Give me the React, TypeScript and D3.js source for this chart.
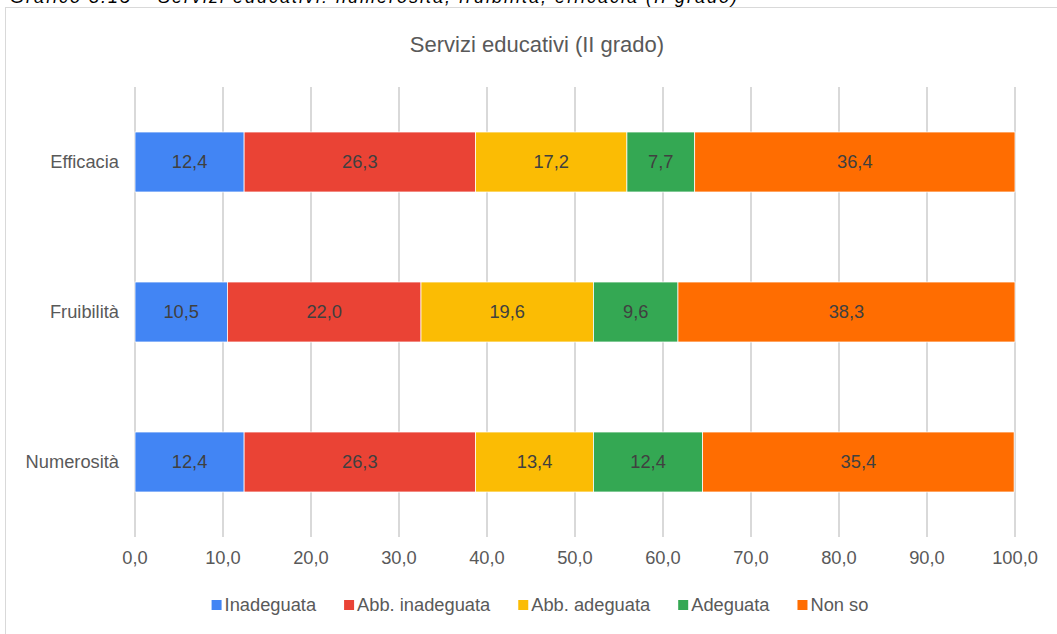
import React, { useRef, useEffect } from 'react';
import * as d3 from 'd3';

const categories = ['Efficacia', 'Fruibilità', 'Numerosità'];
const seriesNames = ['Inadeguata', 'Abb. inadeguata', 'Abb. adeguata', 'Adeguata', 'Non so'];
const inadeguata = [12.4, 10.5, 12.4];
const abbInadeguata = [26.3, 22.0, 26.3];
const abbAdeguata = [17.2, 19.6, 13.4];
const adeguata = [7.7, 9.6, 12.4];
const nonSo = [36.4, 38.3, 35.4];
const xTicks = [0, 10, 20, 30, 40, 50, 60, 70, 80, 90, 100];

const colors = ['#4285F4', '#EA4335', '#FBBC04', '#34A853', '#FF6D01'];

const App: React.FC = () => {
  const svgRef = useRef<SVGSVGElement>(null);

  useEffect(() => {
    const svg = d3.select(svgRef.current);
    svg.selectAll('*').remove();

    const width = 1057;
    const height = 634;
    const font = 'Liberation Sans, Arial, sans-serif';
    const fs = 18.3;
    const fmt = d3.formatLocale({ decimal: ',', thousands: '.', grouping: [3], currency: ['', ''] }).format('.1f');

    svg.attr('width', width).attr('height', height);

    // caption of the page, cut off by the top edge
    svg.append('text')
      .attr('x', 10)
      .attr('y', 3)
      .attr('font-family', font)
      .attr('font-size', 18)
      .attr('font-style', 'italic')
      .attr('fill', '#000')
      .attr('textLength', 727)
      .attr('lengthAdjust', 'spacing')
      .text('Grafico 3.15 – Servizi educativi: numerosità, fruibilità, efficacia (II grado)');

    // chart frame (runs off the right and bottom edges)
    svg.append('rect')
      .attr('x', 5.5)
      .attr('y', 7.5)
      .attr('width', 1100)
      .attr('height', 700)
      .attr('fill', '#fff')
      .attr('stroke', '#d9d9d9');

    svg.append('text')
      .attr('x', 537)
      .attr('y', 52)
      .attr('text-anchor', 'middle')
      .attr('font-family', font)
      .attr('font-size', 22)
      .attr('fill', '#595959')
      .text('Servizi educativi (II grado)');

    const x = d3.scaleLinear().domain([0, 100]).range([135, 1015]);
    const y = d3.scaleBand<string>().domain(categories).range([87, 537]).paddingInner(0.6).paddingOuter(0.3);

    // gridlines
    svg.append('g')
      .selectAll('line')
      .data(xTicks)
      .join('line')
      .attr('x1', (d) => x(d))
      .attr('x2', (d) => x(d))
      .attr('y1', 87)
      .attr('y2', 537)
      .attr('stroke', '#d9d9d9')
      .attr('stroke-width', 2);

    // tick labels
    svg.append('g')
      .selectAll('text')
      .data(xTicks)
      .join('text')
      .attr('x', (d) => x(d))
      .attr('y', 564)
      .attr('text-anchor', 'middle')
      .attr('font-family', font)
      .attr('font-size', fs)
      .attr('fill', '#595959')
      .text((d) => fmt(d));

    // category labels
    svg.append('g')
      .selectAll('text')
      .data(categories)
      .join('text')
      .attr('x', 119)
      .attr('y', (d) => (y(d) as number) + y.bandwidth() / 2)
      .attr('dy', '0.35em')
      .attr('text-anchor', 'end')
      .attr('font-family', font)
      .attr('font-size', fs)
      .attr('fill', '#595959')
      .text((d) => d);

    const table = categories.map((c, i) => ({
      category: c,
      s0: inadeguata[i],
      s1: abbInadeguata[i],
      s2: abbAdeguata[i],
      s3: adeguata[i],
      s4: nonSo[i],
    }));
    const keys = ['s0', 's1', 's2', 's3', 's4'];
    const stacked = d3.stack<any>().keys(keys)(table);

    const groups = svg.append('g')
      .selectAll('g')
      .data(stacked)
      .join('g')
      .attr('fill', (_d, i) => colors[i]);

    groups.selectAll('rect')
      .data((d) => d)
      .join('rect')
      .attr('x', (d) => x(d[0]))
      .attr('width', (d) => x(d[1]) - x(d[0]))
      .attr('y', (d) => y(d.data.category) as number)
      .attr('height', y.bandwidth())
      .attr('stroke', '#fff')
      .attr('stroke-width', 0.75);

    groups.selectAll('text')
      .data((d) => d)
      .join('text')
      .attr('x', (d) => (x(d[0]) + x(d[1])) / 2)
      .attr('y', (d) => (y(d.data.category) as number) + y.bandwidth() / 2)
      .attr('dy', '0.35em')
      .attr('text-anchor', 'middle')
      .attr('font-family', font)
      .attr('font-size', fs)
      .attr('fill', '#404040')
      .text((d) => fmt(d[1] - d[0]));

    // legend, centred under the chart
    const legend = svg.append('g');
    const items = legend.selectAll('g')
      .data(seriesNames)
      .join('g');
    items.append('rect')
      .attr('width', 10)
      .attr('height', 10)
      .attr('y', 600)
      .attr('fill', (_d, i) => colors[i]);
    items.append('text')
      .attr('x', 13)
      .attr('y', 605)
      .attr('dy', '0.35em')
      .attr('font-family', font)
      .attr('font-size', fs)
      .attr('fill', '#595959')
      .text((d) => d);

    let cursor = 0;
    const offsets: number[] = [];
    items.each(function () {
      const t = d3.select(this).select('text').node() as SVGTextElement;
      offsets.push(cursor);
      cursor += 13 + t.getComputedTextLength() + 28;
    });
    const total = cursor - 28;
    const start = 540 - total / 2;
    items.attr('transform', (_d, i) => `translate(${start + offsets[i]},0)`);
  }, []);

  return <svg ref={svgRef} style={{ position: 'absolute', left: 0, top: 0 }} />;
};

export default App;
